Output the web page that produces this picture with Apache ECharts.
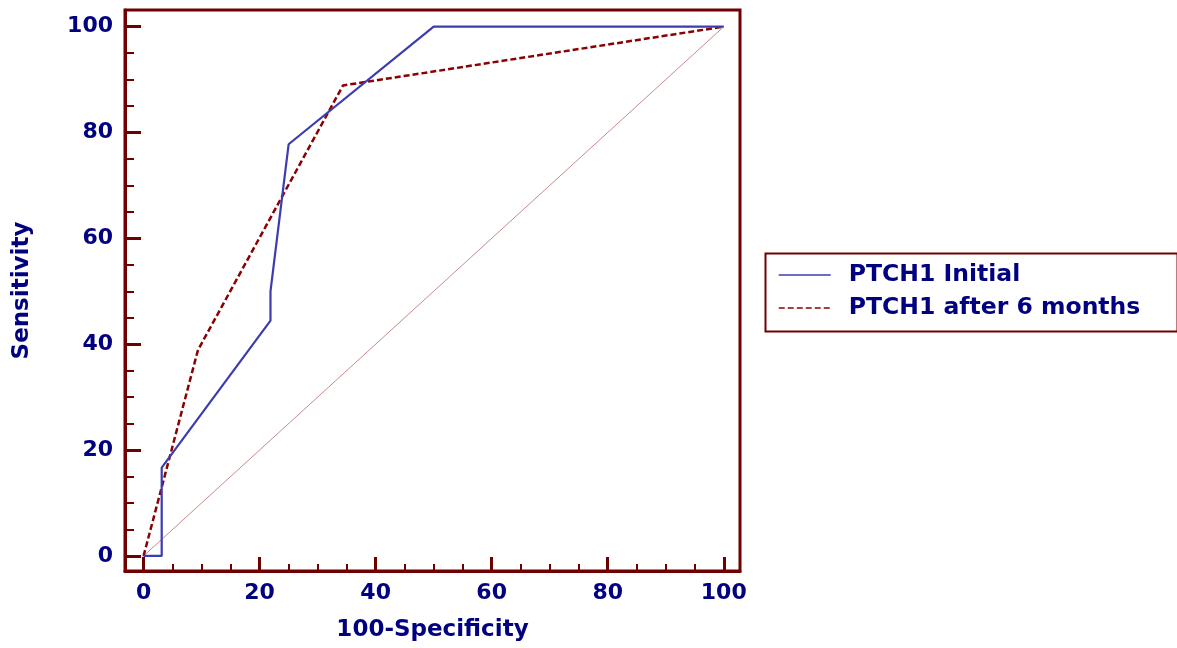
<!DOCTYPE html>
<html>
<head>
<meta charset="utf-8">
<script src="https://cdn.jsdelivr.net/npm/echarts@6/dist/echarts.min.js"></script>
<style>
  html, body { margin: 0; padding: 0; background: #fff; }
  #main { width: 1177px; height: 648px; }
</style>
</head>
<body>
<div id="main"></div>
<script>
// ROC curve data (100-Specificity, Sensitivity)
var initialX = [0, 3.125, 3.125, 21.875, 21.875, 25, 50, 100];
var initialY = [0, 0, 16.67, 44.44, 50, 77.78, 100, 100];
var afterX = [0, 9.375, 34.375, 100];
var afterY = [0, 38.89, 88.89, 100];
var diagX = [0, 100];
var diagY = [0, 100];
var seriesNames = ['PTCH1 Initial', 'PTCH1 after 6 months'];
var majorTicks = [0, 20, 40, 60, 80, 100];
var minorTicks = [5, 10, 15, 25, 30, 35, 45, 50, 55, 65, 70, 75, 85, 90, 95];

var frameColor = '#700000';
var textColor = '#000080';
var font = 'DejaVu Sans';

function pairs(xs, ys) {
	var out = [];
	for (var i = 0; i < xs.length; i++) out.push([xs[i], ys[i]]);
	return out;
}

var chart = echarts.init(document.getElementById('main'));

var labelStyle = {
	color : textColor,
	fontFamily : font,
	fontWeight : 'bold',
	fontSize : 22
};

option = {
	animation : false,
	backgroundColor : '#fff',
	grid : {
		left : 125,
		top : 10,
		width : 615,
		height : 561,
		show : true,
		borderColor : frameColor,
		borderWidth : 3
	},
	xAxis : [ {
		type : 'value',
		min : -3.2,
		max : 102.8,
		position : 'bottom',
		name : '100-Specificity',
		nameLocation : 'middle',
		nameGap : 48,
		nameTextStyle : { color : textColor, fontFamily : font, fontWeight : 'bold', fontSize : 23 },
		axisLine : { show : true, onZero : false, lineStyle : { color : frameColor, width : 3 } },
		axisTick : { show : true, inside : true, length : 14, customValues : majorTicks,
			lineStyle : { color : frameColor, width : 3 } },
		axisLabel : Object.assign({ customValues : majorTicks, margin : 11 }, labelStyle),
		splitLine : { show : false }
	}, {
		// minor ticks only
		type : 'value',
		min : -3.2,
		max : 102.8,
		position : 'bottom',
		offset : 0,
		axisLine : { show : false, onZero : false },
		axisTick : { show : true, inside : true, length : 7, customValues : minorTicks,
			lineStyle : { color : frameColor, width : 2 } },
		axisLabel : { show : false },
		splitLine : { show : false }
	} ],
	yAxis : [ {
		type : 'value',
		min : -2.85,
		max : 103.15,
		position : 'left',
		name : 'Sensitivity',
		nameLocation : 'middle',
		nameGap : 91,
		nameTextStyle : { color : textColor, fontFamily : font, fontWeight : 'bold', fontSize : 23 },
		axisLine : { show : true, onZero : false, lineStyle : { color : frameColor, width : 3 } },
		axisTick : { show : true, inside : true, length : 16, customValues : majorTicks,
			lineStyle : { color : frameColor, width : 3 } },
		axisLabel : Object.assign({ customValues : majorTicks, margin : 12 }, labelStyle),
		splitLine : { show : false }
	}, {
		type : 'value',
		min : -2.85,
		max : 103.15,
		position : 'left',
		offset : 0,
		axisLine : { show : false, onZero : false },
		axisTick : { show : true, inside : true, length : 9, customValues : minorTicks,
			lineStyle : { color : frameColor, width : 2 } },
		axisLabel : { show : false },
		splitLine : { show : false }
	} ],
	legend : {
		data : seriesNames,
		orient : 'vertical',
		left : 778,
		top : 263,
		padding : 0,
		itemWidth : 52,
		itemHeight : 14,
		itemGap : 9,
		itemStyle : { opacity : 0, color : 'rgba(0,0,0,0)', borderWidth : 0 },
		lineStyle : { width : 1.5 },
		textStyle : { color : textColor, fontFamily : font, fontWeight : 'bold', fontSize : 23.5,
			padding : [ 0, 0, 0, 13 ] }
	},
	graphic : [ {
		type : 'rect',
		left : 763,
		top : 251,
		shape : { width : 412, height : 78 },
		style : { fill : 'none', stroke : frameColor, lineWidth : 2 }
	} ],
	series : [ {
		name : 'diagonal',
		type : 'line',
		data : pairs(diagX, diagY),
		symbol : 'none',
		silent : true,
		lineStyle : { color : '#c98a8a', width : 1 },
		z : 1
	}, {
		name : seriesNames[0],
		type : 'line',
		data : pairs(initialX, initialY),
		symbol : 'none',
		itemStyle : { color : '#3c3cb0' },
		lineStyle : { color : '#3c3cb0', width : 2.2 },
		z : 3
	}, {
		name : seriesNames[1],
		type : 'line',
		data : pairs(afterX, afterY),
		symbol : 'none',
		itemStyle : { color : '#8b0000' },
		lineStyle : { color : '#8b0000', width : 2.5, type : [ 6, 3 ] },
		z : 2
	} ]
};

chart.setOption(option);
</script>
</body>
</html>
